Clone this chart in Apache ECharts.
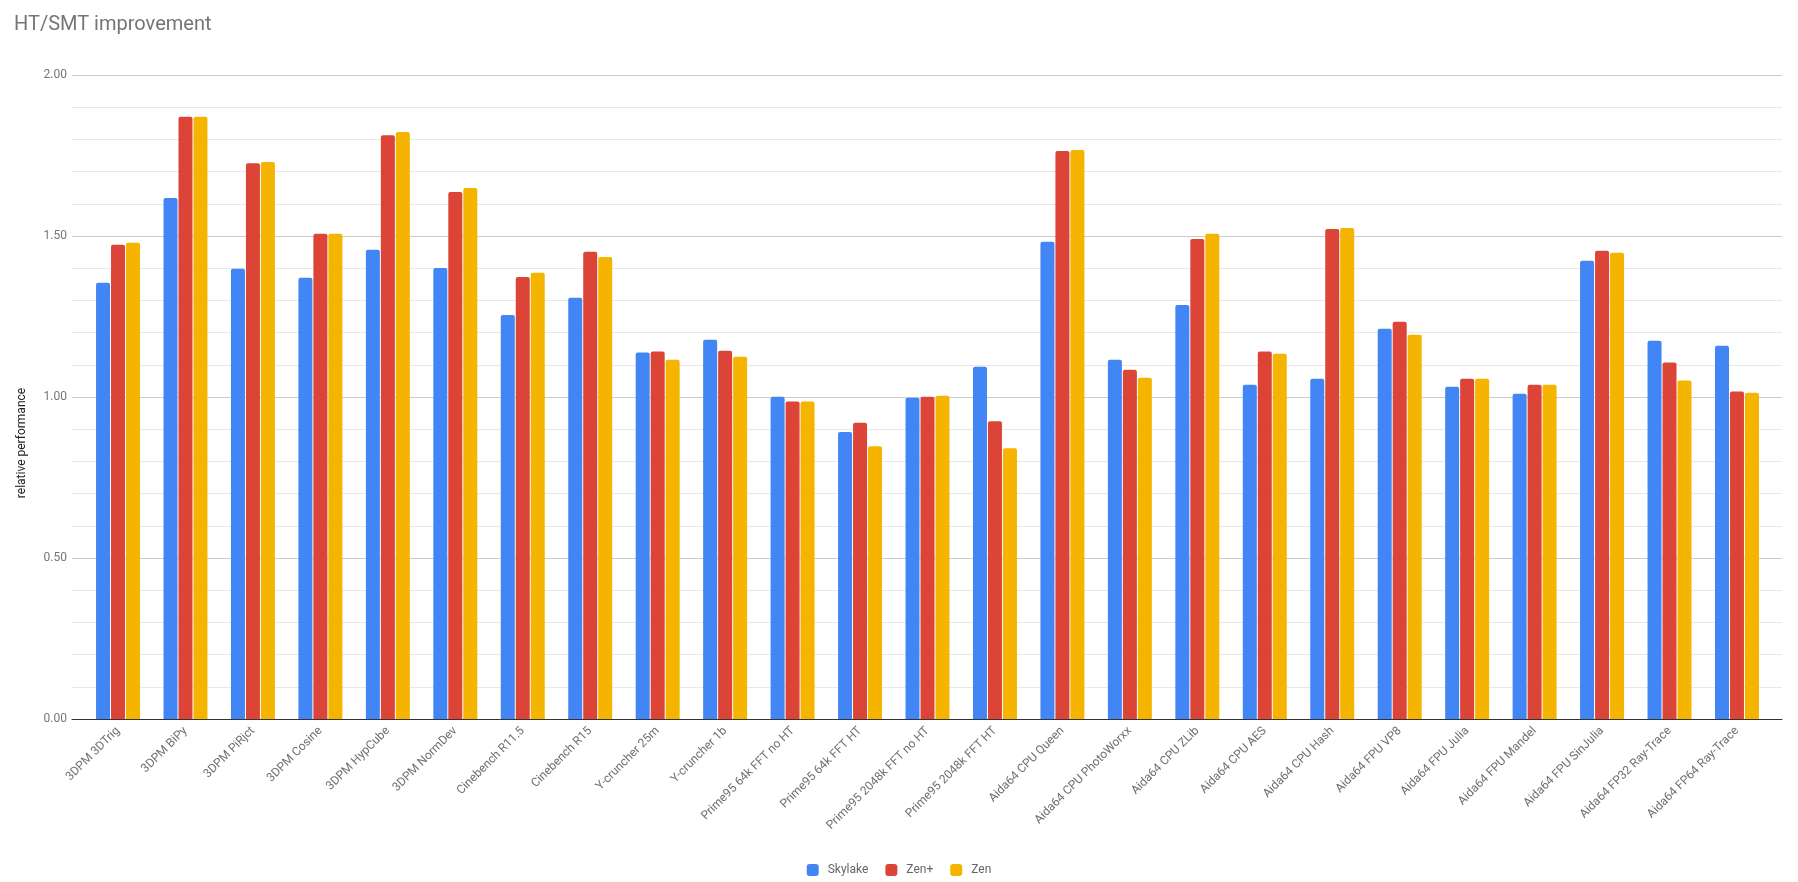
<!DOCTYPE html>
<html>
<head>
<meta charset="utf-8">
<title>HT/SMT improvement</title>
<script src="https://cdn.jsdelivr.net/npm/echarts@6/dist/echarts.min.js"></script>
<style>
  html, body { margin: 0; padding: 0; background: #fff; }
  #chart { width: 1798px; height: 882px; }
</style>
</head>
<body>
<div id="chart"></div>
<script>
var categories = [
  '3DPM 3DTrig', '3DPM BiPy', '3DPM PiRjct', '3DPM Cosine', '3DPM HypCube', '3DPM NormDev',
  'Cinebench R11.5', 'Cinebench R15', 'Y-cruncher 25m', 'Y-cruncher 1b',
  'Prime95 64k FFT no HT', 'Prime95 64k FFT HT', 'Prime95 2048k FFT no HT', 'Prime95 2048k FFT HT',
  'Aida64 CPU Queen', 'Aida64 CPU PhotoWorxx', 'Aida64 CPU ZLib', 'Aida64 CPU AES', 'Aida64 CPU Hash',
  'Aida64 FPU VP8', 'Aida64 FPU Julia', 'Aida64 FPU Mandel', 'Aida64 FPU SinJulia',
  'Aida64 FP32 Ray-Trace', 'Aida64 FP64 Ray-Trace'
]
var skylake = [1.355, 1.618, 1.398, 1.370, 1.457, 1.401, 1.255, 1.308, 1.138, 1.178, 1.001, 0.891, 0.998,
  1.094, 1.482, 1.116, 1.286, 1.038, 1.057, 1.212, 1.032, 1.010, 1.423, 1.175, 1.159]
var zenPlus = [1.473, 1.870, 1.726, 1.507, 1.813, 1.637, 1.373, 1.451, 1.141, 1.144, 0.986, 0.920, 1.001,
  0.925, 1.764, 1.085, 1.491, 1.141, 1.522, 1.234, 1.057, 1.038, 1.454, 1.107, 1.017]
var zen = [1.479, 1.870, 1.730, 1.507, 1.823, 1.649, 1.386, 1.435, 1.116, 1.125, 0.986, 0.847, 1.004,
  0.841, 1.767, 1.060, 1.507, 1.134, 1.525, 1.193, 1.057, 1.038, 1.448, 1.051, 1.013]
var seriesNames = ['Skylake', 'Zen+', 'Zen']
var colors = ['#4285f4', '#db4437', '#f4b400']

var fontFamily = 'Roboto, Arial, sans-serif'
var chart = echarts.init(document.getElementById('chart'))

function barSeries(name, data) {
  return {
    type: 'bar',
    name: name,
    data: data,
    xAxisIndex: 1,
    yAxisIndex: 1,
    barWidth: 14,
    barGap: '7%',
    itemStyle: { borderRadius: [2, 2, 0, 0] }
  }
}

chart.setOption({
  color: colors,
  animation: false,
  textStyle: { fontFamily: fontFamily },
  title: {
    text: 'HT/SMT improvement',
    left: 14,
    top: 15,
    padding: 0,
    textStyle: { color: '#757575', fontSize: 20, fontWeight: 'normal', fontFamily: fontFamily }
  },
  tooltip: { trigger: 'axis', axisPointer: { type: 'shadow' } },
  legend: {
    data: seriesNames,
    left: 'center',
    top: 859,
    icon: 'roundRect',
    itemWidth: 12,
    itemHeight: 12,
    itemGap: 17,
    textStyle: { color: '#666', fontSize: 12, padding: [0, 0, 0, 4] }
  },
  grid: [
    // background grid: gridlines and base line reach a bit past the bars
    { left: 72, right: 16, top: 75, bottom: 163 },
    { left: 84.3, right: 27.3, top: 75, bottom: 163 }
  ],
  xAxis: [
    {
      gridIndex: 0,
      type: 'value',
      min: 0,
      max: 1,
      axisLine: { show: true, onZero: false, lineStyle: { color: '#333', width: 1 } },
      axisTick: { show: false },
      axisLabel: { show: false },
      splitLine: { show: false }
    },
    {
      gridIndex: 1,
      type: 'category',
      data: categories,
      axisLine: { show: false },
      axisTick: { show: false },
      axisLabel: {
        interval: 0,
        rotate: 45,
        margin: 10,
        color: '#6f6f6f',
        fontSize: 12
      }
    }
  ],
  yAxis: [
    {
      gridIndex: 0,
      type: 'value',
      min: 0,
      max: 2,
      interval: 0.5,
      axisLine: { show: false },
      axisTick: { show: false },
      axisLabel: {
        margin: 5,
        color: '#757575',
        fontSize: 12,
        formatter: function(v) { return v.toFixed(2) }
      },
      splitLine: { show: true, lineStyle: { color: '#cccccc', width: 1 } },
      minorTick: { show: false, splitNumber: 5 },
      minorSplitLine: { show: true, lineStyle: { color: '#e8e8e8', width: 1 } }
    },
    {
      gridIndex: 1,
      type: 'value',
      min: 0,
      max: 2,
      show: false
    }
  ],
  graphic: [
    {
      type: 'text',
      x: 22,
      y: 443,
      rotation: Math.PI / 2,
      style: {
        text: 'relative performance',
        fill: '#222',
        font: '12px ' + fontFamily,
        textAlign: 'center',
        textVerticalAlign: 'middle'
      }
    }
  ],
  series: [
    barSeries(seriesNames[0], skylake),
    barSeries(seriesNames[1], zenPlus),
    barSeries(seriesNames[2], zen)
  ]
})
</script>
</body>
</html>
